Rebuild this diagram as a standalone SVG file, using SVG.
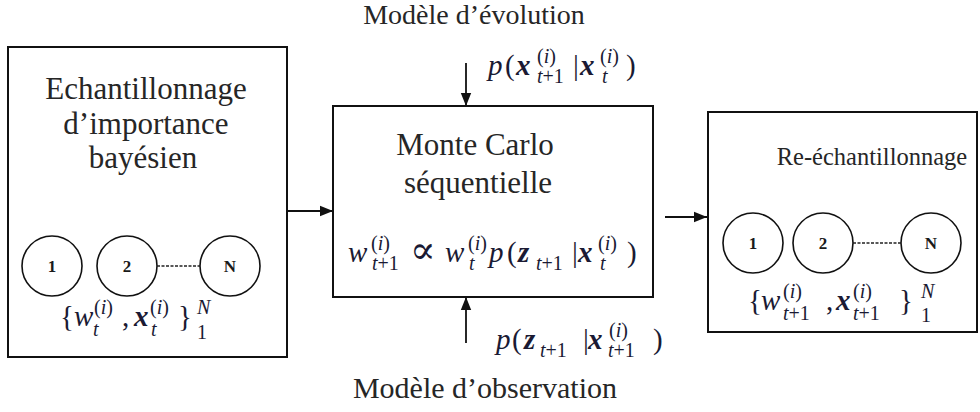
<svg xmlns="http://www.w3.org/2000/svg" width="980" height="412" viewBox="0 0 980 412">
<defs>
<style>
.box{fill:#fff;stroke:#111;stroke-width:2}
.circ{fill:none;stroke:#111;stroke-width:1.6}
.dash{stroke:#222;stroke-width:1.4;stroke-dasharray:3,1.5}
.conn{stroke:#111;stroke-width:1.8;fill:none}
text{font-family:'Liberation Serif','Times New Roman',Times,'DejaVu Serif',serif}
.t{fill:#262626;text-anchor:middle}
.num{font-weight:bold;font-size:17px;fill:#1a1a1a;text-anchor:middle}
.m{font-size:29px;fill:#1a1a33}
.s{font-size:20px}
.it{font-style:italic}
.bi{font-style:italic;font-weight:bold}
</style>
<marker id="ah" viewBox="0 0 10 10" refX="10" refY="5" markerWidth="13" markerHeight="13" markerUnits="userSpaceOnUse" orient="auto">
<path d="M0,1 L10,5 L0,9 Z" fill="#111"/>
</marker>
</defs>
<rect width="980" height="412" fill="#fff"/>

<g id="label-evolution">
<text class="t" x="474" y="24" font-size="28">Modèle d’évolution</text>
<text class="m" y="75"><tspan class="it" x="488">p</tspan><tspan x="505">(</tspan><tspan class="bi" x="516">x</tspan><tspan class="s" x="537" y="63">(<tspan class="it">i</tspan>)</tspan><tspan class="s" x="537" y="83"><tspan class="it">t</tspan>+1</tspan><tspan x="573" y="75">|</tspan><tspan class="bi" x="580">x</tspan><tspan class="s" x="600" y="63">(<tspan class="it">i</tspan>)</tspan><tspan class="s it" x="602" y="83">t</tspan><tspan x="626" y="75">)</tspan></text>
</g>

<g id="label-observation">
<text class="m" y="349"><tspan class="it" x="496">p</tspan><tspan x="512">(</tspan><tspan class="bi" x="524">z</tspan><tspan class="s" x="540" y="357"><tspan class="it">t</tspan>+1</tspan><tspan x="583" y="349">|</tspan><tspan class="bi" x="588">x</tspan><tspan class="s" x="609" y="337">(<tspan class="it">i</tspan>)</tspan><tspan class="s" x="608" y="357"><tspan class="it">t</tspan>+1</tspan><tspan x="653" y="349">)</tspan></text>
<text class="t" x="485" y="398" font-size="30">Modèle d’observation</text>
</g>

<g id="node-echantillonnage">
<rect class="box" x="8" y="47" width="279" height="310"/>
<text class="t" x="146" y="99" font-size="31">Echantillonnage</text>
<text class="t" x="146" y="134" font-size="31">d’importance</text>
<text class="t" x="143" y="168" font-size="31">bayésien</text>
<circle class="circ" cx="52" cy="266" r="30"/>
<circle class="circ" cx="127" cy="266" r="30"/>
<circle class="circ" cx="230" cy="266" r="30"/>
<line class="dash" x1="157" y1="266" x2="200" y2="266"/>
<text class="num" x="52" y="272">1</text>
<text class="num" x="127" y="272">2</text>
<text class="num" x="230" y="272">N</text>
<text class="m" y="326"><tspan x="60">{</tspan><tspan class="it" x="74">w</tspan><tspan class="s" x="94" y="314">(<tspan class="it">i</tspan>)</tspan><tspan class="s it" x="93" y="336">t</tspan><tspan x="122" y="326">,</tspan><tspan class="bi" x="134">x</tspan><tspan class="s" x="150" y="314">(<tspan class="it">i</tspan>)</tspan><tspan class="s it" x="151" y="336">t</tspan><tspan x="178" y="326">}</tspan><tspan class="s it" x="197" y="314">N</tspan><tspan class="s" x="197" y="339">1</tspan></text>
</g>

<g id="node-montecarlo">
<rect class="box" x="333" y="106" width="320" height="191"/>
<text class="t" x="475" y="155" font-size="31">Monte Carlo</text>
<text class="t" x="478" y="193" font-size="31">séquentielle</text>
<text class="m" y="262"><tspan class="it" x="348">w</tspan><tspan class="s" x="371" y="250">(<tspan class="it">i</tspan>)</tspan><tspan class="s" x="372" y="270"><tspan class="it">t</tspan>+1</tspan><tspan x="410" y="263" font-size="38" font-family="DejaVu Serif, serif">∝</tspan><tspan class="it" x="445" y="262">w</tspan><tspan class="s" x="468" y="250">(<tspan class="it">i</tspan>)</tspan><tspan class="s it" x="469" y="270">t</tspan><tspan class="it" x="489" y="262">p</tspan><tspan x="507">(</tspan><tspan class="bi" x="518">z</tspan><tspan class="s" x="536" y="270"><tspan class="it">t</tspan>+1</tspan><tspan x="572" y="262">|</tspan><tspan class="bi" x="578">x</tspan><tspan class="s" x="598" y="250">(<tspan class="it">i</tspan>)</tspan><tspan class="s it" x="600" y="270">t</tspan><tspan x="627" y="262">)</tspan></text>
</g>

<g id="node-reechantillonnage">
<rect class="box" x="708" y="112" width="269" height="220"/>
<text class="t" x="872" y="165" font-size="24.5">Re-échantillonnage</text>
<circle class="circ" cx="753" cy="243" r="30"/>
<circle class="circ" cx="823" cy="243" r="30"/>
<circle class="circ" cx="931" cy="243" r="30"/>
<line class="dash" x1="853" y1="243" x2="901" y2="243"/>
<text class="num" x="753" y="249">1</text>
<text class="num" x="823" y="249">2</text>
<text class="num" x="931" y="249">N</text>
<text class="m" y="310"><tspan x="748">{</tspan><tspan class="it" x="761">w</tspan><tspan class="s" x="783" y="298">(<tspan class="it">i</tspan>)</tspan><tspan class="s" x="783" y="320"><tspan class="it">t</tspan>+1</tspan><tspan x="826" y="310">,</tspan><tspan class="bi" x="836">x</tspan><tspan class="s" x="853" y="298">(<tspan class="it">i</tspan>)</tspan><tspan class="s" x="853" y="320"><tspan class="it">t</tspan>+1</tspan><tspan x="899" y="310">}</tspan><tspan class="s it" x="921" y="298">N</tspan><tspan class="s" x="921" y="322">1</tspan></text>
</g>

<g id="connectors">
<line class="conn" x1="288" y1="211" x2="333" y2="211" marker-end="url(#ah)"/>
<line class="conn" x1="665" y1="217" x2="707" y2="217" marker-end="url(#ah)"/>
<line class="conn" x1="466" y1="63" x2="466" y2="106" marker-end="url(#ah)"/>
<line class="conn" x1="466" y1="343" x2="466" y2="297" marker-end="url(#ah)"/>
</g>
</svg>
